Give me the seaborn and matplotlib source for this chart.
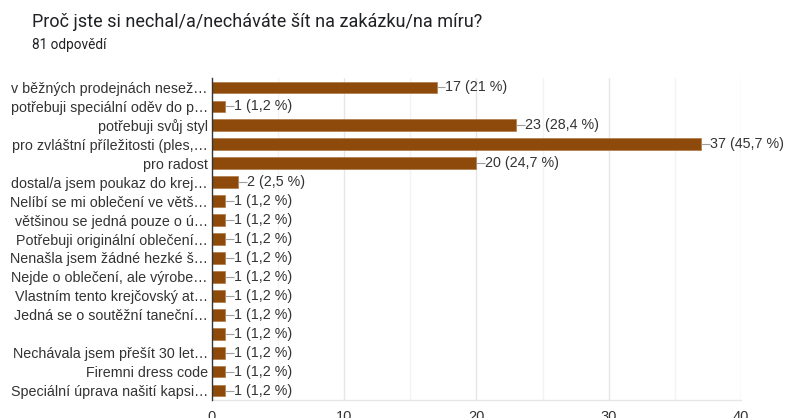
import matplotlib
matplotlib.use("Agg")
import matplotlib.pyplot as plt
import seaborn as sns
import pandas as pd

sns.set_theme(style="white")
plt.rcParams["font.family"] = ["Liberation Sans", "DejaVu Sans"]

labels = [
    "v běžných prodejnách nesež…",
    "potřebuji speciální oděv do p…",
    "potřebuji svůj styl",
    "pro zvláštní příležitosti (ples,…",
    "pro radost",
    "dostal/a jsem poukaz do krej…",
    "Nelíbí se mi oblečení ve větš…",
    "většinou se jedná pouze o ú…",
    "Potřebuji originální oblečení…",
    "Nenašla jsem žádné hezké š…",
    "Nejde o oblečení, ale výrobe…",
    "Vlastním tento krejčovský at…",
    "Jedná se o soutěžní taneční…",
    "",
    "Nechávala jsem přešít 30 let…",
    "Firemni dress code",
    "Speciální úprava našití kapsi…",
]
counts = [17, 1, 23, 37, 20, 2, 1, 1, 1, 1, 1, 1, 1, 1, 1, 1, 1]
percents = ["21", "1,2", "28,4", "45,7", "24,7", "2,5", "1,2", "1,2", "1,2",
            "1,2", "1,2", "1,2", "1,2", "1,2", "1,2", "1,2", "1,2"]
x_ticks = [0, 10, 20, 30, 40]

title = "Proč jste si nechal/a/necháváte šít na zakázku/na míru?"
subtitle = "81 odpovědí"

bar_color = "#8e4a0b"
text_color = "#333333"

df = pd.DataFrame({"key": [f"r{i}" for i in range(len(labels))],
                   "count": counts})

fig = plt.figure(figsize=(7.89, 4.18), dpi=100)
ax = fig.add_axes([212 / 789, 1 - 400 / 418, (741 - 212) / 789, (400 - 78) / 418])

# light minor grid at every 5, stronger major grid at every 10
for v in range(5, 40, 10):
    ax.axvline(v, color="#f3f3f3", lw=1, zorder=0)
for v in x_ticks[1:]:
    ax.axvline(v, color="#e6e6e6", lw=1, zorder=0)

sns.barplot(data=df, x="count", y="key", orient="h", color=bar_color,
            width=0.62, saturation=1, edgecolor="#b07a4a", linewidth=0.5,
            ax=ax, zorder=2)

ax.set_xlim(0, 40)
ax.set_ylim(len(labels) - 0.5, -0.5)
ax.set_xticks(x_ticks)
ax.set_xticklabels([str(t) for t in x_ticks], fontsize=10.5, color=text_color)
ax.set_yticks(range(len(labels)))
ax.set_yticklabels(labels, fontsize=10.3, color=text_color)
ax.tick_params(axis="both", length=0, pad=3)
ax.tick_params(axis="x", pad=7)
ax.set_xlabel("")
ax.set_ylabel("")

for side in ["top", "right"]:
    ax.spines[side].set_visible(False)
ax.spines["bottom"].set_color("#e6e6e6")
ax.spines["bottom"].set_linewidth(1)
ax.spines["left"].set_color("#333333")
ax.spines["left"].set_linewidth(1)
ax.spines["left"].set_zorder(3)

# value annotations: short grey leader line then "n (p %)"
for i, (c, p) in enumerate(zip(counts, percents)):
    ax.plot([c, c + 0.65], [i, i], color="#9e9e9e", lw=0.8, zorder=3,
            solid_capstyle="butt")
    ax.text(c + 0.65, i, f"{c} ({p} %)", va="center", ha="left",
            fontsize=10.3, color=text_color, zorder=3)

fig.text(32 / 789, 1 - 22 / 418, title, fontsize=13, color="#202124",
         va="center", ha="left", family=["Roboto", "DejaVu Sans"])
fig.text(32 / 789, 1 - 45 / 418, subtitle, fontsize=9.8, color="#202124",
         va="center", ha="left", family=["Roboto", "DejaVu Sans"])

fig.savefig("out.png", dpi=100)
